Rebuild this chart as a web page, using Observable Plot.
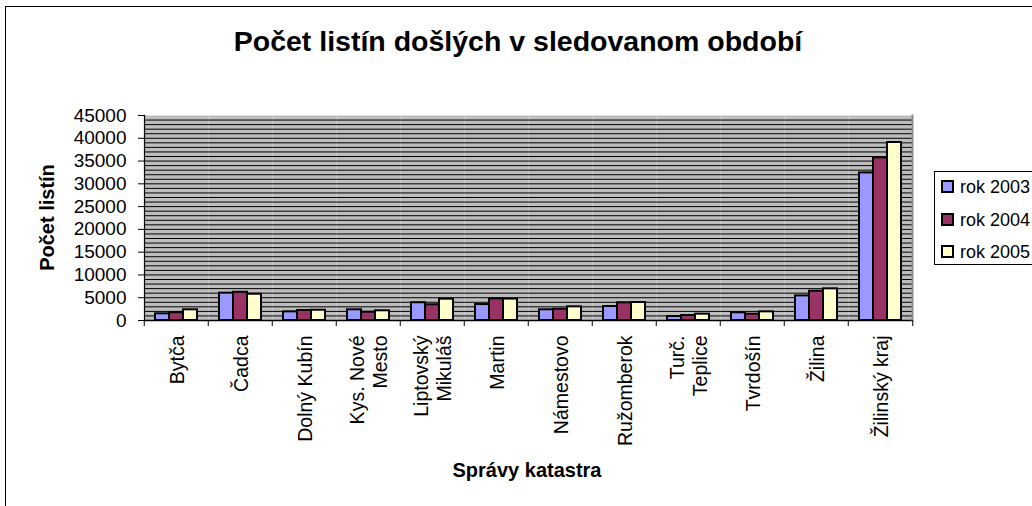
<!DOCTYPE html>
<html>
<head>
<meta charset="utf-8">
<script src="https://cdn.jsdelivr.net/npm/d3@7"></script>
<script src="https://cdn.jsdelivr.net/npm/@observablehq/plot@0.6"></script>
<style>
html, body { margin: 0; padding: 0; background: #fff; overflow: hidden; }
#wrap { position: relative; width: 1032px; height: 506px; overflow: hidden; font-family: "Liberation Sans", Arial, sans-serif; color: #000; }
#border { position: absolute; left: 5px; top: 6px; width: 1100px; height: 600px; border: 1px solid #000; box-sizing: border-box; }
#title { position: absolute; left: 0; top: 25px; width: 1036px; text-align: center; font-weight: bold; font-size: 28.5px; line-height: 32px; white-space: nowrap; }
#chart { position: absolute; left: 0; top: 0; }
#ytitle { position: absolute; left: -53px; top: 206px; width: 200px; height: 23px; line-height: 23px; text-align: center; font-weight: bold; font-size: 20px; transform: rotate(-90deg); white-space: nowrap; }
#xtitle { position: absolute; left: 427px; top: 459px; width: 200px; line-height: 23px; text-align: center; font-weight: bold; font-size: 20px; white-space: nowrap; }
#legend { position: absolute; left: 934px; top: 171px; width: 140px; height: 94px; border: 1px solid #000; box-sizing: border-box; background: #fff; }
.item { position: absolute; left: 6px; height: 24px; line-height: 24px; font-size: 18px; white-space: nowrap; }
.sw { position: absolute; left: 0; top: 5px; width: 13px; height: 13px; border: 2px solid #000; box-sizing: border-box; }
.lt { position: absolute; left: 19px; top: 0; }
</style>
</head>
<body>
<div id="wrap">
  <div id="border"></div>
  <div id="title">Počet listín došlých v sledovanom období</div>
  <div id="chart"></div>
  <div id="ytitle">Počet listín</div>
  <div id="xtitle">Správy katastra</div>
  <div id="legend"></div>
</div>
<script>
const categories = ["Bytča", "Čadca", "Dolný Kubín", "Kys. Nové Mesto", "Liptovský Mikuláš", "Martin", "Námestovo", "Ružomberok", "Turč. Teplice", "Tvrdošín", "Žilina", "Žilinský kraj"];
const tickLabels = ["Bytča", "Čadca", "Dolný Kubín", "Kys. Nové\nMesto", "Liptovský\nMikuláš", "Martin", "Námestovo", "Ružomberok", "Turč.\nTeplice", "Tvrdošín", "Žilina", "Žilinský kraj"];
const series = ["rok 2003", "rok 2004", "rok 2005"];
const v2003 = [1470, 6000, 1900, 2350, 3900, 3500, 2350, 3070, 880, 1690, 5400, 32400];
const v2004 = [1690, 6200, 2200, 1830, 3450, 4760, 2480, 3880, 1100, 1390, 6430, 35700];
const v2005 = [2350, 5770, 2250, 2130, 4680, 4700, 3000, 3950, 1390, 1900, 6950, 39070];
const colors = ["#9999FF", "#993366", "#FFFFCC"];
const yTicks = [0, 5000, 10000, 15000, 20000, 25000, 30000, 35000, 40000, 45000];
const gridValues = d3.range(1000, 45000, 1000);

const valuesBySeries = [v2003, v2004, v2005];
const table = [];
categories.forEach((c, i) => {
  series.forEach((s, k) => table.push({cat: c, year: s, value: valuesBySeries[k][i]}));
});

const W = 1032, H = 506, mL = 141, mR = 117, mT = 115, mB = 186;
const step = (W - mL - mR) / categories.length;

const chart = Plot.plot({
  width: W, height: H,
  marginLeft: mL, marginRight: mR, marginTop: mT, marginBottom: mB,
  style: {fontFamily: "'Liberation Sans', Arial, sans-serif", fontSize: "19px", background: "transparent", color: "#000", overflow: "visible"},
  fx: {domain: categories, padding: 0, label: null},
  x: {domain: series, paddingInner: 0, paddingOuter: 0.7, axis: null},
  y: {domain: [0, 45000], label: null},
  color: {domain: series, range: colors},
  marks: [
    Plot.frame({fill: "#bdbdbd", stroke: null}),
    Plot.ruleY(gridValues, {stroke: "#000", strokeWidth: 1}),
    Plot.barY(table, {fx: "cat", x: "year", y: "value", fill: "year", stroke: "#000", strokeWidth: 2}),
    Plot.ruleY([0], {stroke: "#000", strokeWidth: 1.5}),
    Plot.frame({anchor: "left", facet: "super", stroke: "#000", strokeWidth: 1.2}),
    Plot.frame({anchor: "right", facet: "super", stroke: "#8c8c8c", strokeWidth: 2}),
    Plot.axisY({ticks: yTicks, tickSize: 6, tickPadding: 12, tickFormat: d => String(d), label: null}),
    Plot.axisFx({anchor: "bottom", tickSize: 0, tickPadding: 15, rotate: -90, textAnchor: "end", lineAnchor: "middle", lineHeight: 1.15, fontSize: 19.5, tickFormat: d => tickLabels[categories.indexOf(d)], label: null}),
    Plot.axisFx({anchor: "bottom", tickSize: 6, tickFormat: () => "", dx: -step / 2, label: null}),
    Plot.axisFx({anchor: "bottom", ticks: [categories[categories.length - 1]], tickSize: 6, tickFormat: () => "", dx: step / 2, label: null})
  ]
});
document.getElementById("chart").appendChild(chart);

const legend = d3.select("#legend");
series.forEach((s, k) => {
  const it = legend.append("div").attr("class", "item").style("top", (3 + k * 32.5) + "px");
  it.append("div").attr("class", "sw").style("background", colors[k]);
  it.append("div").attr("class", "lt").text(s);
});
</script>
</body>
</html>
